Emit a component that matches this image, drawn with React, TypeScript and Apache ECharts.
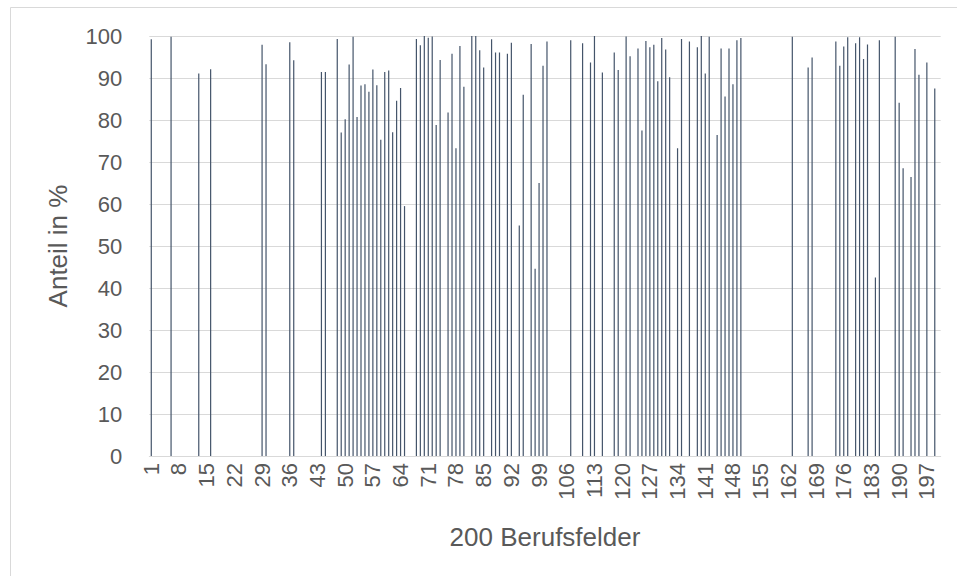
import React, { useEffect, useRef } from "react";
import * as echarts from "echarts";

// 200 occupational fields (Berufsfelder), share in %
const categories: string[] = Array.from({ length: 200 }, (_, i) => String(i + 1));

const values1to50: number[] = [
  99.2, 0, 0, 0, 0, 99.8, 0, 0, 0, 0,
  0, 0, 91.1, 0, 0, 92.1, 0, 0, 0, 0,
  0, 0, 0, 0, 0, 0, 0, 0, 97.9, 93.3,
  0, 0, 0, 0, 0, 98.5, 94.2, 0, 0, 0,
  0, 0, 0, 91.4, 91.4, 0, 0, 99.3, 77.0, 80.2,
];
const values51to100: number[] = [
  93.2, 99.8, 80.7, 88.2, 88.5, 86.7, 92.0, 88.3, 75.3, 91.4,
  91.8, 77.1, 84.6, 87.6, 59.5, 0, 0, 99.3, 97.8, 100,
  99.6, 99.9, 78.8, 94.3, 0, 81.8, 95.8, 73.3, 97.6, 87.9,
  0, 100, 100, 96.6, 92.5, 0, 99.2, 96.1, 96.1, 0,
  95.8, 98.4, 0, 54.9, 86.0, 0, 98.1, 44.6, 65.0, 92.9,
];
const values101to150: number[] = [
  98.7, 0, 0, 0, 0, 0, 99.0, 0, 0, 98.3,
  0, 93.7, 100, 0, 91.3, 0, 0, 96.1, 91.9, 0,
  99.9, 95.2, 0, 97.0, 77.5, 98.8, 97.3, 97.9, 89.2, 99.5,
  96.8, 90.2, 0, 73.3, 99.3, 0, 98.7, 0, 97.3, 100,
  91.1, 99.8, 0, 76.4, 97.0, 85.6, 97.0, 88.5, 99.0, 99.5,
];
const values151to200: number[] = [
  0, 0, 0, 0, 0, 0, 0, 0, 0, 0,
  0, 0, 99.8, 0, 0, 0, 92.5, 94.9, 0, 0,
  0, 0, 0, 98.7, 92.9, 97.5, 99.7, 0, 98.3, 99.7,
  94.5, 98.0, 0, 42.5, 99.0, 0, 0, 0, 99.8, 84.1,
  68.5, 0, 66.4, 96.9, 90.8, 0, 93.7, 0, 87.5, 0,
];

const yTicks: number[] = [0, 10, 20, 30, 40, 50, 60, 70, 80, 90, 100];
const xTitle = "200 Berufsfelder";
const yTitle = "Anteil in %";

const FONT = '"Liberation Sans", Arial, sans-serif';
const TEXT = "#595959";
const GRID = "#D9D9D9";

export default function App() {
  const ref = useRef<HTMLDivElement>(null);
  useEffect(() => {
    if (!ref.current) return;
    const chart = echarts.init(ref.current, undefined, { renderer: "svg" });
    const data = [...values1to50, ...values51to100, ...values101to150, ...values151to200];
    chart.setOption({
      animation: false,
      backgroundColor: "#ffffff",
      textStyle: { fontFamily: FONT },
      grid: { left: 149.3, right: 16.3, top: 36, bottom: 120, containLabel: false },
      graphic: [
        { type: "line", shape: { x1: 10.5, y1: 7.5, x2: 957, y2: 7.5 }, style: { stroke: GRID, lineWidth: 1 }, silent: true },
        { type: "line", shape: { x1: 10.5, y1: 7.5, x2: 10.5, y2: 576 }, style: { stroke: GRID, lineWidth: 1 }, silent: true },
      ],
      xAxis: {
        type: "category",
        data: categories,
        name: xTitle,
        nameLocation: "middle",
        nameGap: 68,
        nameTextStyle: { fontSize: 26, color: TEXT, fontFamily: FONT },
        axisLine: { show: true, lineStyle: { color: GRID, width: 1 } },
        axisTick: { show: false },
        axisLabel: {
          interval: 6,
          rotate: 90,
          fontSize: 22,
          color: TEXT,
          fontFamily: FONT,
          margin: 7,
          hideOverlap: false,
        },
        splitLine: { show: false },
      },
      yAxis: {
        type: "value",
        min: yTicks[0],
        max: yTicks[yTicks.length - 1],
        interval: 10,
        name: yTitle,
        nameLocation: "middle",
        nameGap: 78,
        nameTextStyle: { fontSize: 26, color: TEXT, fontFamily: FONT },
        axisLine: { show: false },
        axisTick: { show: false },
        axisLabel: { fontSize: 22, color: TEXT, fontFamily: FONT, margin: 27 },
        splitLine: { show: true, lineStyle: { color: GRID, width: 1 } },
      },
      series: [
        {
          type: "bar",
          data,
          barWidth: 1.2,
          itemStyle: { color: "#44546A" },
        },
      ],
    });
    return () => chart.dispose();
  }, []);
  return (
    <div
      ref={ref}
      style={{ position: "fixed", left: 0, top: 0, width: 957, height: 576, background: "#fff" }}
    />
  );
}
